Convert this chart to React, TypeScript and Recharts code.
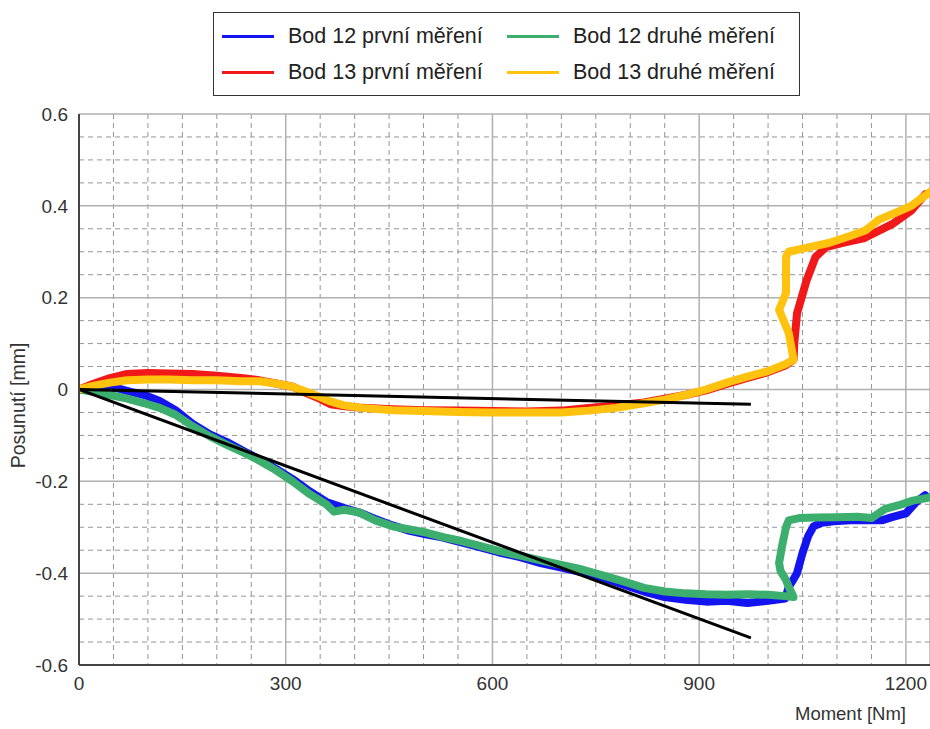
import React from "react";
import { LineChart, Line, XAxis, YAxis, CartesianGrid, Legend, Label } from "recharts";

type Pair = [number, number];

const X_TICKS = [0, 300, 600, 900, 1200];
const Y_TICKS = [-0.6, -0.4, -0.2, 0, 0.2, 0.4, 0.6];
const X_MINOR = [50, 100, 150, 200, 250, 350, 400, 450, 500, 550, 650, 700, 750, 800, 850, 950, 1000, 1050, 1100, 1150];
const Y_MINOR = [-0.55, -0.5, -0.45, -0.35, -0.3, -0.25, -0.15, -0.1, -0.05, 0.05, 0.1, 0.15, 0.25, 0.3, 0.35, 0.45, 0.5, 0.55];

// Moment [Nm], Posunutí [mm]
const bod12First: Pair[] = [
  [0, 0], [20, 0.002], [40, 0.004], [55, 0.003], [75, -0.005], [95, -0.012], [117, -0.025], [140, -0.045],
  [165, -0.075], [190, -0.098], [214, -0.114], [240, -0.135], [262, -0.152], [285, -0.172], [310, -0.195],
  [335, -0.222], [359, -0.245], [385, -0.258], [407, -0.268], [430, -0.282], [455, -0.296], [480, -0.308],
  [505, -0.316], [527, -0.322], [555, -0.333], [580, -0.343], [610, -0.355], [640, -0.365], [670, -0.378],
  [700, -0.388], [730, -0.398], [760, -0.41], [790, -0.425], [820, -0.44], [850, -0.452], [880, -0.458],
  [910, -0.462], [940, -0.46], [970, -0.465], [1000, -0.46], [1025, -0.455], [1030, -0.43], [1035, -0.418],
  [1042, -0.4], [1050, -0.356], [1058, -0.32], [1066, -0.298], [1078, -0.29], [1095, -0.287], [1120, -0.285],
  [1150, -0.285], [1165, -0.285], [1180, -0.278], [1200, -0.27], [1215, -0.245], [1228, -0.23],
];

const bod12Second: Pair[] = [
  [0, 0], [20, -0.005], [45, -0.012], [70, -0.02], [95, -0.03], [117, -0.04], [140, -0.055], [165, -0.08],
  [190, -0.102], [214, -0.12], [240, -0.138], [262, -0.155], [285, -0.175], [310, -0.2], [335, -0.228],
  [359, -0.25], [370, -0.266], [385, -0.262], [407, -0.268], [430, -0.285], [455, -0.298], [480, -0.305],
  [505, -0.312], [530, -0.322], [555, -0.33], [580, -0.34], [610, -0.352], [640, -0.362], [670, -0.372],
  [700, -0.382], [730, -0.392], [760, -0.405], [790, -0.418], [820, -0.432], [850, -0.44], [880, -0.444],
  [910, -0.446], [940, -0.447], [970, -0.446], [1000, -0.447], [1025, -0.45], [1037, -0.452], [1030, -0.43],
  [1026, -0.415], [1018, -0.395], [1016, -0.378], [1020, -0.343], [1026, -0.3], [1030, -0.285], [1045, -0.28],
  [1070, -0.279], [1100, -0.278], [1130, -0.277], [1150, -0.28], [1160, -0.27], [1170, -0.26], [1190, -0.252],
  [1210, -0.242], [1235, -0.235],
];

const bod13First: Pair[] = [
  [0, 0], [20, 0.012], [45, 0.025], [70, 0.034], [100, 0.036], [130, 0.035], [165, 0.034], [200, 0.03],
  [235, 0.025], [262, 0.02], [290, 0.012], [310, 0.006], [330, -0.008], [349, -0.02], [365, -0.032],
  [383, -0.036], [410, -0.04], [455, -0.043], [500, -0.045], [550, -0.046], [600, -0.047], [650, -0.048],
  [700, -0.046], [740, -0.04], [780, -0.035], [820, -0.028], [850, -0.02], [880, -0.012], [910, -0.002],
  [940, 0.012], [970, 0.025], [1000, 0.038], [1025, 0.052], [1037, 0.065], [1038, 0.1], [1042, 0.166],
  [1056, 0.238], [1069, 0.289], [1084, 0.31], [1110, 0.32], [1140, 0.33], [1180, 0.36], [1208, 0.39],
  [1228, 0.425],
];

const bod13Second: Pair[] = [
  [0, 0], [20, 0.008], [45, 0.015], [70, 0.02], [100, 0.022], [130, 0.022], [165, 0.02], [200, 0.02],
  [235, 0.018], [262, 0.018], [290, 0.012], [310, 0.006], [330, -0.005], [349, -0.016], [365, -0.026],
  [383, -0.034], [410, -0.04], [455, -0.045], [500, -0.047], [550, -0.049], [600, -0.05], [650, -0.05],
  [700, -0.05], [740, -0.046], [780, -0.04], [820, -0.03], [850, -0.022], [880, -0.012], [910, 0.0],
  [940, 0.015], [970, 0.028], [1000, 0.04], [1025, 0.055], [1037, 0.065], [1030, 0.123], [1016, 0.173],
  [1026, 0.21], [1026, 0.289], [1030, 0.3], [1060, 0.31], [1088, 0.319], [1120, 0.335], [1142, 0.347],
  [1161, 0.37], [1185, 0.385], [1208, 0.4], [1235, 0.43],
];

const fitBod13: Pair[] = [[0, 0], [975, -0.032]];
const fitBod12: Pair[] = [[0, 0], [975, -0.541]];

const toPts = (arr: Pair[]) => arr.map(([m, v]) => ({ m, v }));

const SERIES = [
  { key: "b12a", name: "Bod 12 první měření", color: "#1414f0", data: bod12First },
  { key: "b13a", name: "Bod 13 první měření", color: "#f01818", data: bod13First },
  { key: "b12b", name: "Bod 12 druhé měření", color: "#3cae6e", data: bod12Second },
  { key: "b13b", name: "Bod 13 druhé měření", color: "#ffc20e", data: bod13Second },
];

// legend order: row 1 = Bod 12, row 2 = Bod 13
const LEGEND_ORDER = ["b12a", "b12b", "b13a", "b13b"];

const FONT = "'Liberation Sans', Arial, sans-serif";

const LegendBox = () => (
  <div
    style={{
      boxSizing: "border-box",
      width: 587,
      height: 84,
      border: "1.5px solid #333",
      background: "#fff",
      display: "grid",
      gridTemplateColumns: "285px 1fr",
      alignContent: "center",
      rowGap: 10,
      paddingLeft: 8,
      fontFamily: FONT,
      fontSize: 21.5,
      color: "#222",
    }}
  >
    {LEGEND_ORDER.map((k) => {
      const s = SERIES.find((x) => x.key === k)!;
      return (
        <div key={k} style={{ display: "flex", alignItems: "center", height: 26 }}>
          <span style={{ display: "inline-block", width: 52, height: 3, background: s.color, marginRight: 14 }} />
          <span>{s.name}</span>
        </div>
      );
    })}
  </div>
);

const fmtY = (v: number) => (v === 0 ? "0" : v.toFixed(1));

const XTitle = ({ viewBox }: any) => (
  <text
    x={viewBox.x + viewBox.width - 24}
    y={viewBox.y + viewBox.height + 25}
    textAnchor="end"
    fill="#333"
    fontSize={18.5}
    fontFamily={FONT}
  >
    Moment [Nm]
  </text>
);

const YTitle = ({ viewBox }: any) => {
  const cx = 18;
  const cy = viewBox.y + viewBox.height / 2 + 16;
  return (
    <text
      x={cx}
      y={cy}
      transform={`rotate(-90 ${cx} ${cy})`}
      textAnchor="middle"
      dominantBaseline="central"
      fill="#333"
      fontSize={19.5}
      fontFamily={FONT}
    >
      Posunutí [mm]
    </text>
  );
};

export default function App() {
  return (
    <div style={{ position: "absolute", left: 0, top: 0, width: 930, height: 729, background: "#fff" }}>
      <LineChart width={930} height={729} margin={{ top: 114, right: 0, bottom: 34, left: 19 }}>
        <CartesianGrid
          verticalValues={X_MINOR}
          horizontalValues={Y_MINOR}
          stroke="#959595"
          strokeDasharray="5 4"
          strokeWidth={1}
        />
        <CartesianGrid stroke="#b0b0b0" strokeWidth={1.5} />
        <XAxis
          type="number"
          dataKey="m"
          domain={[0, 1235]}
          ticks={X_TICKS}
          interval={0}
          allowDataOverflow
          tickSize={0}
          tickMargin={12}
          height={30}
          axisLine={{ stroke: "#444", strokeWidth: 2 }}
          tick={{ fill: "#333", fontSize: 19, fontFamily: FONT }}
        >
          <Label content={XTitle} />
        </XAxis>
        <YAxis
          type="number"
          dataKey="v"
          domain={[-0.6, 0.6]}
          ticks={Y_TICKS}
          interval={0}
          tickFormatter={fmtY}
          tickSize={0}
          tickMargin={11}
          width={60}
          axisLine={{ stroke: "#444", strokeWidth: 2 }}
          tick={{ fill: "#333", fontSize: 19, fontFamily: FONT }}
        >
          <Label content={YTitle} />
        </YAxis>
        <Legend
          layout="horizontal"
          verticalAlign="middle"
          align="center"
          wrapperStyle={{ top: 12, left: 213, width: 587, height: 84 }}
          content={() => <LegendBox />}
        />
        {SERIES.map((s) => (
          <Line
            key={s.key}
            data={toPts(s.data)}
            dataKey="v"
            name={s.name}
            type="linear"
            stroke={s.color}
            strokeWidth={8}
            strokeLinejoin="round"
            strokeLinecap="round"
            dot={false}
            activeDot={false}
            isAnimationActive={false}
          />
        ))}
        <Line data={toPts(fitBod13)} dataKey="v" stroke="#000" strokeWidth={3} dot={false} legendType="none" isAnimationActive={false} />
        <Line data={toPts(fitBod12)} dataKey="v" stroke="#000" strokeWidth={3} dot={false} legendType="none" isAnimationActive={false} />
      </LineChart>
    </div>
  );
}
